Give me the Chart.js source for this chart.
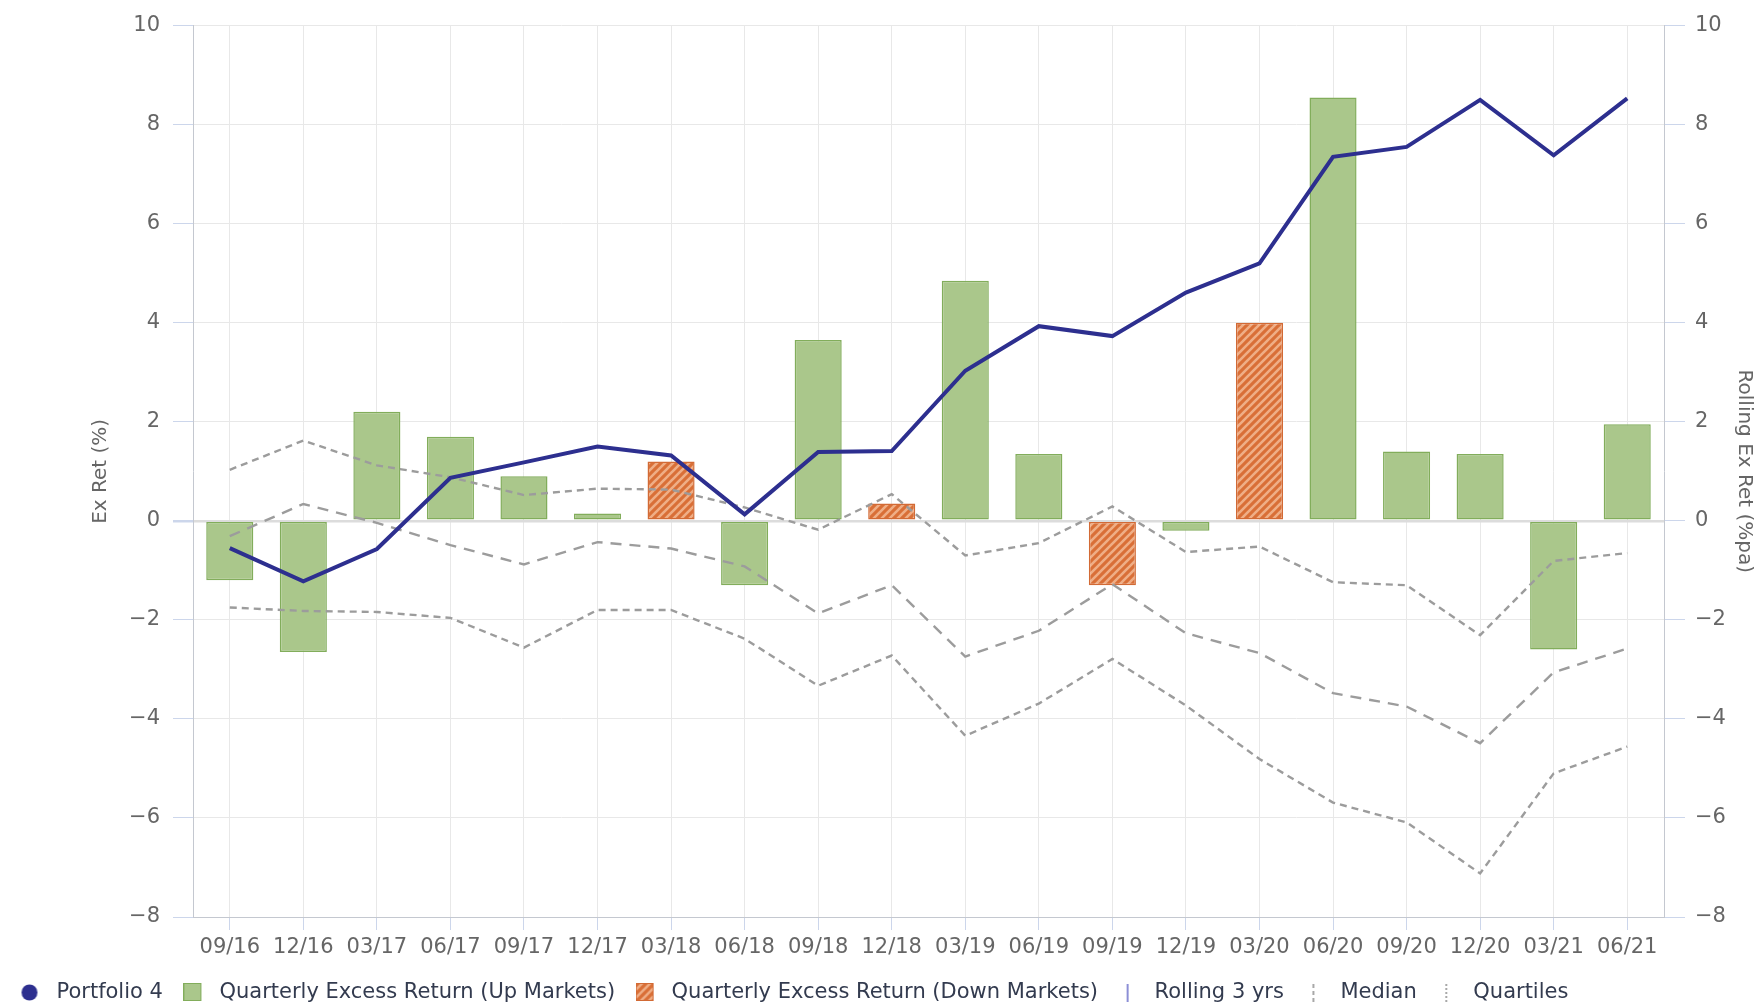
<!DOCTYPE html>
<html>
<head>
<meta charset="utf-8">
<title>Portfolio 4 - Excess Return</title>
<script src="https://cdn.jsdelivr.net/npm/chart.js@4.4.1/dist/chart.umd.min.js"></script>
<style>
  html, body { margin: 0; padding: 0; background: #fff; }
  #wrap { width: 1756px; height: 1005px; }
</style>
</head>
<body>
<div id="wrap"><canvas id="exRetChart" width="1756" height="1005"></canvas></div>
<script>
// quarter end labels
const quarters = ['09/16', '12/16', '03/17', '06/17', '09/17', '12/17', '03/18', '06/18', '09/18', '12/18',
                  '03/19', '06/19', '09/19', '12/19', '03/20', '06/20', '09/20', '12/20', '03/21', '06/21'];

// quarterly excess return, split by market direction (left axis)
const upMarkets   = [-1.2, -2.65, 2.2, 1.7, 0.9, 0.15, null, -1.3, 3.65, null,
                     4.85, 1.35, null, -0.2, null, 8.55, 1.4, 1.35, -2.6, 1.95];
const downMarkets = [null, null, null, null, null, null, 1.2, null, null, 0.35,
                     null, null, -1.3, null, 4.0, null, null, null, null, null];

// rolling 3 yr excess return (right axis)
const rolling3y = [-0.55, -1.22, -0.57, 0.87, 1.18, 1.5, 1.32, 0.13, 1.39, 1.41,
                   3.03, 3.93, 3.73, 4.61, 5.2, 7.35, 7.55, 8.5, 7.38, 8.53];

// peer group rolling 3 yr quartiles and median
const upperQuartile = [1.03, 1.62, 1.12, 0.88, 0.52, 0.65, 0.63, 0.27, -0.18, 0.54,
                       -0.7, -0.45, 0.29, -0.63, -0.52, -1.24, -1.3, -2.31, -0.81, -0.65];
const medianLine    = [-0.31, 0.34, -0.04, -0.49, -0.88, -0.43, -0.56, -0.92, -1.87, -1.3,
                       -2.74, -2.22, -1.28, -2.27, -2.67, -3.48, -3.75, -4.49, -3.06, -2.58];
const lowerQuartile = [-1.75, -1.82, -1.84, -1.96, -2.56, -1.8, -1.8, -2.38, -3.33, -2.72,
                       -4.34, -3.69, -2.79, -3.73, -4.81, -5.69, -6.09, -7.12, -5.1, -4.56];

const axisMin = -8;
const axisMax = 10;
const axisStep = 2;

const NAVY = '#2d2f8f';
const GREEN = '#aac78b';
const GREEN_EDGE = '#82ad5b';
const ORANGE_EDGE = '#d26a35';
const DASH_GREY = '#9c9c9c';

Chart.defaults.font.family = '"DejaVu Sans", Verdana, sans-serif';

// diagonal hatch used for the down market bars
function makeHatch() {
    const s = 8;
    const c = document.createElement('canvas');
    c.width = s;
    c.height = s;
    const g = c.getContext('2d');
    g.fillStyle = '#d96f37';
    g.fillRect(0, 0, s, s);
    g.strokeStyle = '#efae86';
    g.lineWidth = 2.6;
    g.beginPath();
    g.moveTo(0, s); g.lineTo(s, 0);
    g.moveTo(-s / 2, s / 2); g.lineTo(s / 2, -s / 2);
    g.moveTo(s / 2, s * 1.5); g.lineTo(s * 1.5, s / 2);
    g.stroke();
    return g.createPattern(c, 'repeat');
}
const hatch = makeHatch();

// little canvases used as legend symbols
function makeMarker(kind) {
    const c = document.createElement('canvas');
    c.width = 20;
    c.height = 21;
    const g = c.getContext('2d');
    if (kind === 'circle') {
        g.fillStyle = NAVY;
        g.beginPath();
        g.arc(9, 10.5, 8, 0, Math.PI * 2);
        g.fill();
    } else if (kind === 'up') {
        g.fillStyle = GREEN;
        g.fillRect(0.5, 1.5, 17, 17);
        g.strokeStyle = GREEN_EDGE;
        g.lineWidth = 1;
        g.strokeRect(0.5, 1.5, 17, 17);
    } else if (kind === 'down') {
        g.fillStyle = hatch;
        g.fillRect(0.5, 1.5, 17, 17);
        g.strokeStyle = ORANGE_EDGE;
        g.lineWidth = 1;
        g.strokeRect(0.5, 1.5, 17, 17);
    } else {
        g.strokeStyle = kind === 'line' ? '#8c8fd6' : '#a8a8a8';
        g.lineWidth = 2;
        if (kind === 'median') g.setLineDash([4, 3]);
        if (kind === 'quartile') g.setLineDash([2, 2]);
        g.beginPath();
        g.moveTo(9, 2);
        g.lineTo(9, 20);
        g.stroke();
    }
    return c;
}

const legendEntries = [
    { text: 'Portfolio 4', kind: 'circle' },
    { text: 'Quarterly Excess Return (Up Markets)', kind: 'up' },
    { text: 'Quarterly Excess Return (Down Markets)', kind: 'down' },
    { text: 'Rolling 3 yrs', kind: 'line' },
    { text: 'Median', kind: 'median' },
    { text: 'Quartiles', kind: 'quartile' }
];
const legendMarkers = legendEntries.map(e => makeMarker(e.kind));

const tickLabel = v => (v < 0 ? '\u2212' + Math.abs(v) : String(v));

const ctx = document.getElementById('exRetChart').getContext('2d');

new Chart(ctx, {
    type: 'bar',
    data: {
        labels: quarters,
        datasets: [
            {
                type: 'line',
                label: 'Rolling 3 yrs',
                data: rolling3y,
                yAxisID: 'y1',
                borderColor: NAVY,
                borderWidth: 4,
                pointRadius: 0,
                tension: 0,
                order: 0
            },
            {
                type: 'line',
                label: 'Upper Quartile',
                data: upperQuartile,
                yAxisID: 'y1',
                borderColor: DASH_GREY,
                borderWidth: 2.4,
                borderDash: [7, 5],
                pointRadius: 0,
                order: 1
            },
            {
                type: 'line',
                label: 'Median',
                data: medianLine,
                yAxisID: 'y1',
                borderColor: DASH_GREY,
                borderWidth: 2.4,
                borderDash: [11, 8],
                pointRadius: 0,
                order: 1
            },
            {
                type: 'line',
                label: 'Lower Quartile',
                data: lowerQuartile,
                yAxisID: 'y1',
                borderColor: DASH_GREY,
                borderWidth: 2.4,
                borderDash: [7, 5],
                pointRadius: 0,
                order: 1
            },
            {
                label: 'Quarterly Excess Return (Up Markets)',
                data: upMarkets,
                yAxisID: 'y',
                backgroundColor: GREEN,
                borderColor: GREEN_EDGE,
                borderWidth: 1.5,
                borderSkipped: false,
                grouped: false,
                barPercentage: 0.64,
                categoryPercentage: 1,
                order: 2
            },
            {
                label: 'Quarterly Excess Return (Down Markets)',
                data: downMarkets,
                yAxisID: 'y',
                backgroundColor: hatch,
                borderColor: ORANGE_EDGE,
                borderWidth: 1.5,
                borderSkipped: false,
                grouped: false,
                barPercentage: 0.64,
                categoryPercentage: 1,
                order: 2
            }
        ]
    },
    options: {
        responsive: false,
        animation: false,
        devicePixelRatio: 1,
        layout: { padding: { top: 21, left: 0, right: 0, bottom: -8 } },
        plugins: {
            tooltip: { enabled: false },
            legend: {
                position: 'bottom',
                align: 'start',
                labels: {
                    usePointStyle: true,
                    pointStyleWidth: 31,
                    padding: 15,
                    color: '#333b4f',
                    font: { size: 21 },
                    generateLabels: () => legendEntries.map((e, i) => ({
                        text: e.text,
                        pointStyle: legendMarkers[i],
                        fillStyle: 'transparent',
                        strokeStyle: 'transparent',
                        lineWidth: 0,
                        hidden: false,
                        fontColor: '#333b4f'
                    }))
                }
            }
        },
        scales: {
            x: {
                offset: true,
                grid: {
                    offset: false,
                    color: '#e8e8e8',
                    tickColor: '#ccd6eb',
                    tickLength: 13
                },
                border: { color: '#c4c8d0' },
                ticks: {
                    color: '#666',
                    font: { size: 21 },
                    padding: 5,
                    maxRotation: 0,
                    autoSkip: false
                },
                afterFit: scale => { scale.height = 50; }
            },
            y: {
                position: 'left',
                min: axisMin,
                max: axisMax,
                ticks: {
                    stepSize: axisStep,
                    color: '#666',
                    font: { size: 21 },
                    padding: 13,
                    callback: tickLabel
                },
                grid: {
                    color: c => (c.tick && c.tick.value === 0 ? '#dcdcdc' : '#e8e8e8'),
                    lineWidth: c => (c.tick && c.tick.value === 0 ? 2.5 : 1),
                    tickColor: '#ccd6eb',
                    tickLength: 20
                },
                border: { color: '#c4c8d0' },
                title: {
                    display: true,
                    text: 'Ex Ret (%)',
                    color: '#666',
                    font: { size: 20 },
                    padding: { top: 89, bottom: 0 }
                },
                afterFit: scale => { scale.width = 193; }
            },
            y1: {
                position: 'right',
                min: axisMin,
                max: axisMax,
                ticks: {
                    stepSize: axisStep,
                    color: '#666',
                    font: { size: 21 },
                    padding: 10,
                    callback: tickLabel
                },
                grid: {
                    drawOnChartArea: false,
                    tickColor: '#ccd6eb',
                    tickLength: 21
                },
                border: { color: '#c4c8d0' },
                title: {
                    display: true,
                    text: 'Rolling Ex Ret (%pa)',
                    color: '#666',
                    font: { size: 20 },
                    padding: { top: 0, bottom: 0 }
                },
                afterFit: scale => { scale.width = 92; }
            }
        }
    }
});
</script>
</body>
</html>
